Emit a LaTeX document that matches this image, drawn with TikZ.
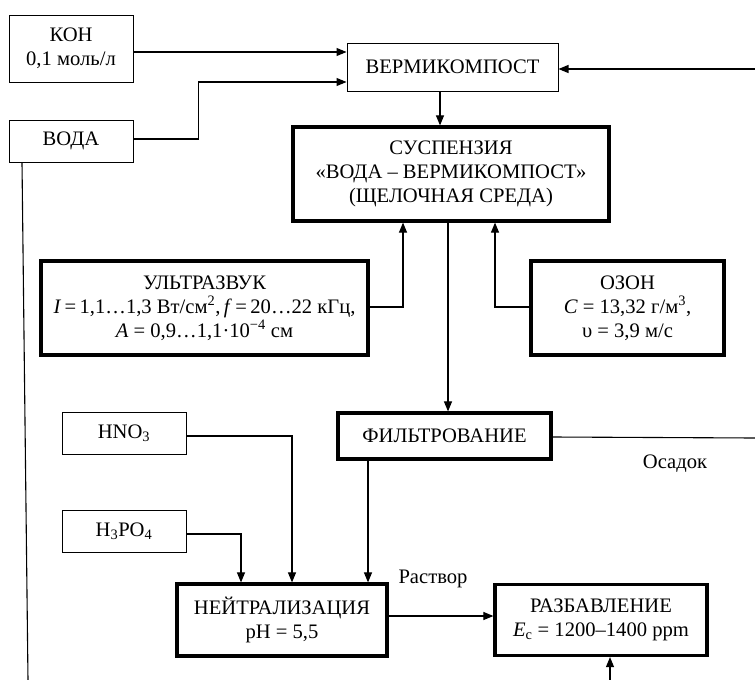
\documentclass[tikz,border=0pt]{standalone}
\usepackage{fontspec}
\setmainfont{Liberation Serif}
\usetikzlibrary{arrows.meta}
\begin{document}
\begin{tikzpicture}[x=1pt,y=-1pt,
  every node/.style={font=\fontsize{20.6}{24}\selectfont, align=center, inner sep=0pt},
  thinbox/.style={draw, line width=1pt, fill=white},
  thickbox/.style={draw, line width=3.2pt, fill=white},
  arr/.style={line width=1.1pt, -{Triangle[length=10pt,width=8pt]}},
  link/.style={line width=1.1pt}]
\useasboundingbox (0,0) rectangle (755,680);

% input boxes
\node[thinbox, minimum width=124pt, minimum height=67pt] (koh) at (71,48.5) {КОН\\0,1 моль/л};
\node[thinbox, minimum width=124pt, minimum height=42pt] (voda) at (71,141) {ВОДА};
\node[thinbox, minimum width=211pt, minimum height=48pt] (verm) at (452.5,67) {ВЕРМИКОМПОСТ};

% process boxes
\node[thickbox, minimum width=316pt, minimum height=94pt] (susp) at (451,174)
  {СУСПЕНЗИЯ\\«ВОДА – ВЕРМИКОМПОСТ»\\(ЩЕЛОЧНАЯ СРЕДА)};
\node[thickbox, minimum width=327pt, minimum height=94pt] (ultra) at (204.5,308)
  {УЛЬТРАЗВУК\\\textit{I}\,=\,1,1…1,3 Вт/см\textsuperscript{2},\,\textit{f}\,=\,20…22 кГц,\\\textit{A} = 0,9…1,1·10\textsuperscript{−4} см};
\node[thickbox, minimum width=193pt, minimum height=94pt] (ozon) at (627.5,308)
  {ОЗОН\\\textit{C} = 13,32 г/м\textsuperscript{3},\\υ = 3,9 м/с};
\node[thickbox, minimum width=213pt, minimum height=46pt] (filt) at (444.5,436) {ФИЛЬТРОВАНИЕ};
\node[thinbox, minimum width=124pt, minimum height=42pt] (hno) at (124,433) {HNO\textsubscript{3}};
\node[thinbox, minimum width=124pt, minimum height=42pt] (hpo) at (124,531) {H\textsubscript{3}PO\textsubscript{4}};
\node[thickbox, minimum width=210pt, minimum height=72pt] (neut) at (282,620) {НЕЙТРАЛИЗАЦИЯ\\pH = 5,5};
\node[thickbox, minimum width=212pt, minimum height=71pt] (razb) at (601,620)
  {РАЗБАВЛЕНИЕ\\\textit{E}\textsubscript{с} = 1200–1400 ppm};

% stream labels
\node (osadok) at (675,464) {Осадок};
\node (rastvor) at (433,579) {Раствор};

% free ends at the edges
\coordinate (rin) at (755,69);
\coordinate (rout) at (755,438);
\coordinate (bin) at (610,680);
\coordinate (lout) at (28,680);

% connectors
\draw[arr] ([yshift=-3.5pt]koh.east) -- ([yshift=-3.5pt]koh.east -| verm.west);
\draw[arr] ([yshift=2pt]voda.east) -- ++(65,0) |- ([yshift=-15pt]verm.west);
\draw[arr] (rin) -- (rin -| verm.east);
\draw[arr] ([xshift=-12.5pt]verm.south) -- ([xshift=-12.5pt]verm.south |- susp.north);
\draw[arr] ([yshift=1pt]ultra.east) -| ([xshift=-48pt]susp.south);
\draw[arr] ([yshift=1pt]ozon.west) -| ([xshift=44pt]susp.south);
\draw[arr] ([xshift=-3pt]susp.south) -- ([xshift=-3pt]susp.south |- filt.north);
\draw[link] ([yshift=-1pt]filt.east) -- (rout);
\draw[arr] ([xshift=-76.5pt]filt.south) -- ([xshift=-76.5pt]filt.south |- neut.north);
\draw[arr] ([yshift=-3pt]hno.east) -| ([xshift=10pt]neut.north);
\draw[arr] ([yshift=-3pt]hpo.east) -| ([xshift=-41pt]neut.north);
\draw[arr] ([yshift=4pt]neut.east) -- ([yshift=4pt]neut.east -| razb.west);
\draw[arr] (bin) -- (bin |- razb.south);
\draw[link] ([xshift=-49pt]voda.south) -- (lout);
\end{tikzpicture}
\end{document}
